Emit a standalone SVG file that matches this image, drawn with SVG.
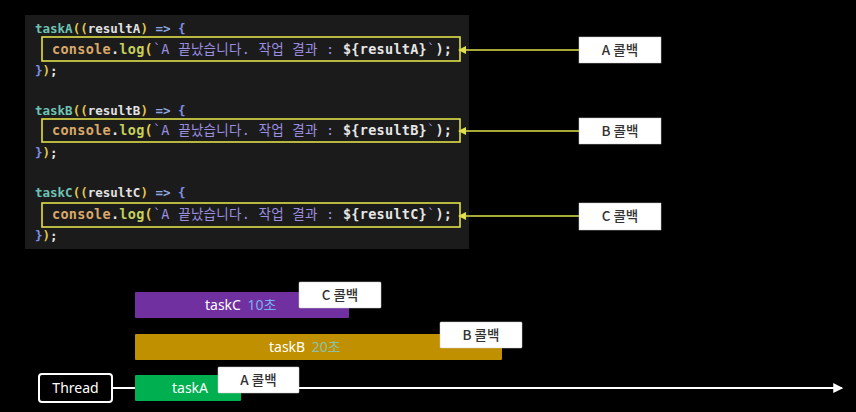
<svg xmlns="http://www.w3.org/2000/svg" width="856" height="412" viewBox="0 0 856 412">
<defs>
<style>
.code{font-family:"DejaVu Sans Mono","Noto Sans CJK KR",monospace;font-size:12.5px;font-weight:bold;}
.big{font-size:13.5px}
.fn{fill:#6ec3b5}.par{fill:#e2c94d}.id{fill:#e2e2e2}.arr{fill:#8fa8e0}.br{fill:#7f8fe8}
.obj{fill:#d9a86a}.mth{fill:#c6d05a}.str{fill:#9c8fe0;font-weight:normal}.wh{fill:#e6e6e6}
.hl{fill:none;stroke:#e0e04a;stroke-width:1.6}
.cb rect{fill:#ffffff;stroke:#cccccc;stroke-width:0.5}
.cbt{font-family:"Noto Sans CJK KR","Noto Sans",sans-serif;font-size:13.5px;font-weight:500;fill:#333;text-anchor:middle}
.bart{font-family:"Noto Sans","Noto Sans CJK KR",sans-serif;font-size:14px;fill:#ffffff}
.yl{stroke:#e0e04a;stroke-width:1.6;fill:none}
</style>
<marker id="ya" viewBox="0 0 8 8" refX="1" refY="4" markerWidth="5" markerHeight="5" orient="auto-start-reverse" markerUnits="strokeWidth">
<path d="M0,0L8,4L0,8z" fill="#e0e04a"/>
</marker>
<marker id="wa" viewBox="0 0 8 8" refX="7" refY="4" markerWidth="5" markerHeight="5" orient="auto" markerUnits="strokeWidth">
<path d="M0,0L8,4L0,8z" fill="#ffffff"/>
</marker>
</defs>
<rect width="856" height="412" fill="#000"/>
<g id="code-panel">
<rect x="25" y="15" width="444" height="234" fill="#1b1b1b"/>
<g id="blockA">
<text class="code" x="35" y="33"><tspan class="fn">taskA</tspan><tspan class="par">((</tspan><tspan class="id">resultA</tspan><tspan class="par">)</tspan><tspan class="arr"> =&gt; </tspan><tspan class="br">{</tspan></text>
<rect class="hl" x="42" y="37" width="418" height="24"/>
<text class="code big" x="52" y="54" textLength="400" lengthAdjust="spacing"><tspan class="obj">console</tspan><tspan class="wh">.</tspan><tspan class="mth">log</tspan><tspan class="par">(</tspan><tspan class="str">`A 끝났습니다. 작업 결과 : </tspan><tspan class="wh">${resultA}</tspan><tspan class="str">`</tspan><tspan class="wh">);</tspan></text>
<text class="code" x="35" y="75"><tspan class="br">}</tspan><tspan class="par">)</tspan><tspan class="wh">;</tspan></text>
</g>
<g id="blockB">
<text class="code" x="35" y="115"><tspan class="fn">taskB</tspan><tspan class="par">((</tspan><tspan class="id">resultB</tspan><tspan class="par">)</tspan><tspan class="arr"> =&gt; </tspan><tspan class="br">{</tspan></text>
<rect class="hl" x="42" y="119" width="418" height="23"/>
<text class="code big" x="52" y="135" textLength="400" lengthAdjust="spacing"><tspan class="obj">console</tspan><tspan class="wh">.</tspan><tspan class="mth">log</tspan><tspan class="par">(</tspan><tspan class="str">`A 끝났습니다. 작업 결과 : </tspan><tspan class="wh">${resultB}</tspan><tspan class="str">`</tspan><tspan class="wh">);</tspan></text>
<text class="code" x="35" y="157"><tspan class="br">}</tspan><tspan class="par">)</tspan><tspan class="wh">;</tspan></text>
</g>
<g id="blockC">
<text class="code" x="35" y="197"><tspan class="fn">taskC</tspan><tspan class="par">((</tspan><tspan class="id">resultC</tspan><tspan class="par">)</tspan><tspan class="arr"> =&gt; </tspan><tspan class="br">{</tspan></text>
<rect class="hl" x="42" y="203" width="418" height="24"/>
<text class="code big" x="52" y="219" textLength="400" lengthAdjust="spacing"><tspan class="obj">console</tspan><tspan class="wh">.</tspan><tspan class="mth">log</tspan><tspan class="par">(</tspan><tspan class="str">`A 끝났습니다. 작업 결과 : </tspan><tspan class="wh">${resultC}</tspan><tspan class="str">`</tspan><tspan class="wh">);</tspan></text>
<text class="code" x="35" y="240"><tspan class="br">}</tspan><tspan class="par">)</tspan><tspan class="wh">;</tspan></text>
</g>
</g>
<g id="connectors">
<line class="yl" x1="579" y1="50" x2="465" y2="50" marker-end="url(#ya)"/>
<line class="yl" x1="579" y1="131" x2="465" y2="131" marker-end="url(#ya)"/>
<line class="yl" x1="579" y1="216" x2="465" y2="216" marker-end="url(#ya)"/>
<line x1="112" y1="388" x2="842" y2="388" stroke="#ffffff" stroke-width="2" marker-end="url(#wa)"/>
</g>
<g id="callback-A-label" class="cb"><rect x="579" y="37" width="82" height="26"/><text class="cbt" x="620" y="55">A 콜백</text></g>
<g id="callback-B-label" class="cb"><rect x="579" y="118" width="82" height="26"/><text class="cbt" x="620" y="136">B 콜백</text></g>
<g id="callback-C-label" class="cb"><rect x="579" y="203" width="82" height="27"/><text class="cbt" x="620" y="221">C 콜백</text></g>
<g id="thread"><rect x="39" y="374" width="73" height="28" rx="3" fill="#000" stroke="#ffffff" stroke-width="2"/><text class="bart" x="75.5" y="393" text-anchor="middle">Thread</text></g>
<g id="taskC"><rect x="135" y="292" width="214" height="26" rx="1" fill="#7030a0"/><text class="bart" x="205" y="310">taskC <tspan fill="#7ab0f0" dx="3">10초</tspan></text></g>
<g id="taskB"><rect x="135" y="334" width="367" height="26" rx="1" fill="#c09000"/><text class="bart" x="269" y="352">taskB <tspan fill="#8cc0a8" dx="3">20초</tspan></text></g>
<g id="taskA"><rect x="135" y="375" width="106" height="26" rx="1" fill="#00b050"/><text class="bart" x="172" y="393">taskA</text></g>
<g id="callback-C" class="cb"><rect x="299" y="282" width="82" height="26" rx="1"/><text class="cbt" x="340" y="300">C 콜백</text></g>
<g id="callback-B" class="cb"><rect x="440" y="322" width="82" height="26" rx="1"/><text class="cbt" x="481" y="340">B 콜백</text></g>
<g id="callback-A" class="cb"><rect x="218" y="367" width="81" height="26" rx="1"/><text class="cbt" x="258.5" y="385">A 콜백</text></g>
</svg>
